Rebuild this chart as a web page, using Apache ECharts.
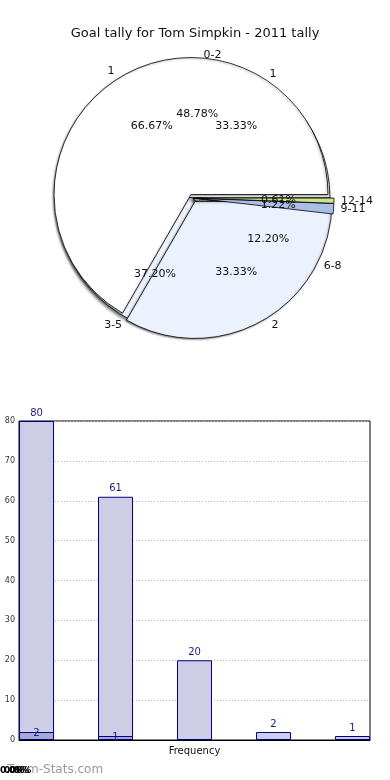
<!DOCTYPE html>
<html>
<head>
<meta charset="utf-8">
<script src="https://cdn.jsdelivr.net/npm/echarts@6/dist/echarts.min.js"></script>
<style>
html,body{margin:0;padding:0;background:#fff;}
#c{width:390px;height:780px;}
</style>
</head>
<body>
<div id="c"></div>
<script>
// ---- data ----
const titleText = 'Goal tally for Tom Simpkin - 2011 tally';
const tallyNames = ['0-2', '3-5', '6-8', '9-11', '12-14'];
const tallyValues = [80, 61, 20, 2, 1];
const overlayANames = ['1', '2'];
const overlayAValues = [2, 1];
const overlayBNames = ['1', ''];
const overlayBValues = [1, 2];
const barValues = tallyValues;
const barSecondValues = [2, 1];
const yMin = 0, yMax = 80, yInterval = 10;
const xAxisName = 'Frequency';

// ---- styles ----
const FONT = 'DejaVu Sans';
const C = [193, 198];
const LC = [194, 199];
const R = 137;
const mainColors = ['#ffffff', '#eef2fc', '#eaf0fc', '#a9bfe8', '#cde38c'];
const aColors = ['#ffffff', '#ebf1fd'];

const chart = echarts.init(document.getElementById('c'), null, {renderer: 'canvas'});

const commonPie = {
  type: 'pie', center: C, startAngle: 0, clockwise: false,
  avoidLabelOverlap: false, silent: true, animation: false,
  emphasis: {disabled: true}, selectedMode: 'multiple', selectedOffset: 4,
  labelLayout: {hideOverlap: false}, minShowLabelAngle: 0
};
const outsideLabel = {show: true, position: 'outside', formatter: '{b}', fontFamily: FONT, fontSize: 11, color: '#111'};
const outsideLine = {show: false, length: 6, length2: 0};
const noLabel = {show: false};

function pct(values) {
  const s = values.reduce((a, b) => a + b, 0);
  return p => (p.value / s * 100).toFixed(2) + '%';
}

function labelSeries(names, values, hideIdx) {
  return Object.assign({}, commonPie, {
    center: LC,
    radius: [26, R],
    selectedMode: false,
    z: 10,
    itemStyle: {color: 'transparent', borderWidth: 0},
    label: {show: true, position: 'inside', formatter: pct(values), fontFamily: FONT, fontSize: 11, color: '#111'},
    labelLine: {show: false},
    data: names.map((n, i) => ({name: n, value: values[i], label: hideIdx === i ? {show: false} : undefined}))
  });
}

const barData = barValues.map((v, i) => [i, v]);
const bar2Data = barSecondValues.map((v, i) => [i, v]);

const option = {
  animation: false,
  title: {
    text: titleText, left: 'center', top: 22,
    textStyle: {fontFamily: FONT, fontSize: 13, fontWeight: 'normal', color: '#111'}
  },
  grid: {left: 19, right: 20, top: 421, bottom: 40, show: true, borderColor: '#000', borderWidth: 1},
  xAxis: {
    type: 'value', min: -0.222, max: 4.222,
    axisLabel: {show: false}, axisTick: {show: false}, splitLine: {show: false},
    axisLine: {show: true, lineStyle: {color: '#000'}},
    name: xAxisName, nameLocation: 'middle', nameGap: 6,
    nameTextStyle: {fontFamily: FONT, fontSize: 10, color: '#111'}
  },
  yAxis: {
    type: 'value', min: yMin, max: yMax, interval: yInterval,
    axisLabel: {fontFamily: FONT, fontSize: 8, color: '#333', margin: 4},
    axisTick: {show: false},
    axisLine: {show: true, lineStyle: {color: '#000'}},
    splitLine: {show: true, lineStyle: {color: '#bbb', type: [1, 2], width: 1}}
  },
  series: [
    // main pie (bottom, coloured)
    Object.assign({}, commonPie, {
      radius: [0, R],
      itemStyle: {borderColor: '#000', borderWidth: 0.8, shadowBlur: 3, shadowColor: 'rgba(0,0,0,0.55)', shadowOffsetX: -1, shadowOffsetY: 2},
      label: outsideLabel, labelLine: outsideLine,
      data: tallyNames.map((n, i) => ({name: n, value: tallyValues[i], itemStyle: {color: mainColors[i]}}))
    }),
    // overlay pie A
    Object.assign({}, commonPie, {
      radius: [0, R],
      itemStyle: {borderColor: '#000', borderWidth: 0.8, shadowBlur: 2, shadowColor: 'rgba(0,0,0,0.35)', shadowOffsetX: -1, shadowOffsetY: 1},
      label: outsideLabel, labelLine: outsideLine,
      data: overlayANames.map((n, i) => ({name: n, value: overlayAValues[i], selected: true, itemStyle: {color: aColors[i]}}))
    }),
    // top copy of the thin main slices
    Object.assign({}, commonPie, {
      radius: [0, R],
      label: noLabel, labelLine: {show: false},
      data: tallyNames.map((n, i) => ({
        name: n, value: tallyValues[i], selected: i >= 3,
        itemStyle: i >= 3 ? {color: mainColors[i], borderColor: '#000', borderWidth: 0.8} : {color: 'transparent', borderWidth: 0}
      }))
    }),
    // overlay pie B (labels only)
    Object.assign({}, commonPie, {
      radius: [0, R],
      label: outsideLabel, labelLine: outsideLine,
      itemStyle: {color: 'transparent', borderWidth: 0},
      data: overlayBNames.map((n, i) => ({name: n, value: overlayBValues[i], label: i === 0 ? undefined : {show: false}}))
    }),
    labelSeries(tallyNames, tallyValues),
    labelSeries(overlayANames, overlayAValues),
    labelSeries(overlayBNames, overlayBValues, 1),
    // bars
    {
      type: 'bar', data: barData, barWidth: 35, silent: true,
      itemStyle: {color: '#cdcde6', borderColor: '#000080', borderWidth: 1},
      label: {show: true, position: 'top', distance: 3, fontFamily: FONT, fontSize: 10, color: '#1a1a8c', formatter: p => p.value[1]}
    },
    {
      type: 'bar', data: bar2Data, barWidth: 35, barGap: '-100%', silent: true,
      itemStyle: {color: '#a8a8d6', borderColor: '#000080', borderWidth: 1},
      label: {show: true, position: 'top', distance: -6, fontFamily: FONT, fontSize: 10, color: '#1a1a8c', formatter: p => p.value[1]}
    }
  ],
  graphic: [
    {type: 'text', left: 7, top: 764, style: {text: 'Team-Stats.com', font: '12px "DejaVu Sans"', fill: '#9a9a9a'}},
    {type: 'text', left: 0, top: 766, style: {text: '0.00%', font: 'bold 9px "DejaVu Sans"', fill: '#000'}},
    {type: 'text', left: 4, top: 766, style: {text: '0.0%', font: 'bold 9px "DejaVu Sans"', fill: '#000'}},
    {type: 'text', left: 9, top: 766, style: {text: '0%', font: 'bold 9px "DejaVu Sans"', fill: '#000'}}
  ]
};
chart.setOption(option);
</script>
</body>
</html>
